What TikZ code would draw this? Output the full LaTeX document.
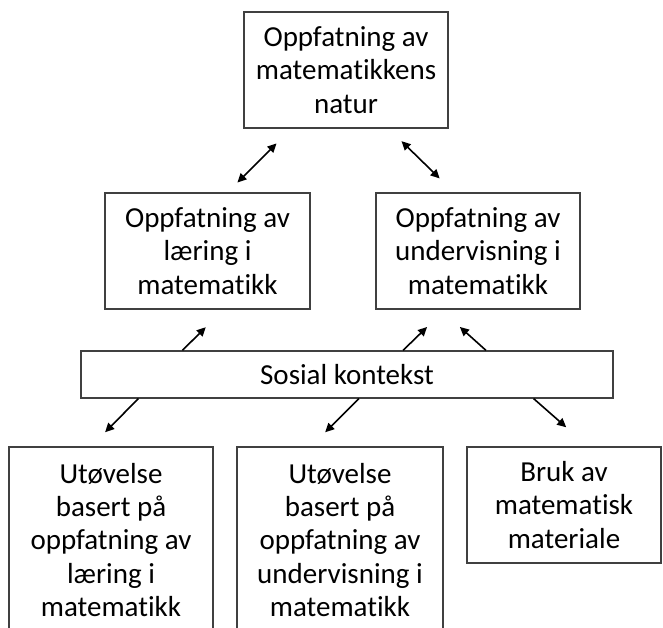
\documentclass[tikz,border=0pt]{standalone}
\usepackage{fontspec}
\setmainfont{Carlito}[Ligatures=NoCommon]
\usetikzlibrary{arrows.meta}

\begin{document}
\begin{tikzpicture}[x=1pt, y=-1pt,
    caja/.style={draw=black!75, line width=1.2pt, align=center, inner sep=0pt,
        font=\fontsize{29}{33.3}\selectfont},
    flecha/.style={-{Triangle[length=9pt,width=8.5pt]}, line width=1.6pt},
    dobleflecha/.style={{Triangle[length=9pt,width=8.5pt]}-{Triangle[length=9pt,width=8.5pt]}, line width=1.6pt}]

    % Fijamos el marco de la figura
    \useasboundingbox (0,0) rectangle (663,628);

    % Caja de arriba
    \node[caja, minimum width=204pt, minimum height=116pt] (natur) at (346,70)
        {Oppfatning av\\matematikkens\\natur};

    % Cajas del medio
    \node[caja, minimum width=205pt, minimum height=116pt] (laering) at (207.5,251)
        {Oppfatning av\\læring i\\matematikk};
    \node[caja, minimum width=204pt, minimum height=116pt] (undervisning) at (478,251)
        {Oppfatning av\\undervisning i\\matematikk};

    % Contexto social
    \node[caja, minimum width=532pt, minimum height=47pt] (kontekst) at (347,374.5)
        {Sosial kontekst};

    % Cajas de abajo
    \node[caja, minimum width=204pt, minimum height=186pt] (utlaering) at (111,540)
        {Utøvelse\\basert på\\oppfatning av\\læring i\\matematikk};
    \node[caja, minimum width=206pt, minimum height=186pt] (utundervisning) at (340,540)
        {Utøvelse\\basert på\\oppfatning av\\undervisning i\\matematikk};
    \node[caja, minimum width=194pt, minimum height=116pt] (materiale) at (564,505)
        {Bruk av\\matematisk\\materiale};

    % Flechas dobles de arriba
    \draw[dobleflecha, shorten <=21pt, shorten >=14pt]
        ([xshift=48pt]natur.south west) -- ([xshift=20pt]laering.north);
    \draw[dobleflecha, shorten <=18pt, shorten >=20pt]
        ([xshift=-60pt]natur.south east) -- ([xshift=-24pt]undervisning.north);

    % Flechas hacia el medio
    \draw[flecha, shorten >=25pt] ([xshift=102pt]kontekst.north west) -- ([xshift=16pt]laering.south);
    \draw[flecha, shorten >=25pt] ([xshift=56pt]kontekst.north) -- ([xshift=-33pt]undervisning.south);
    \draw[flecha, shorten >=26pt] ([xshift=139pt]kontekst.north) -- ([xshift=-37.5pt]undervisning.south);

    % Flechas hacia abajo
    \draw[flecha, shorten >=20pt] ([xshift=58pt]kontekst.south west) -- ([xshift=-20pt]utlaering.north);
    \draw[flecha, shorten >=20pt] ([xshift=12pt]kontekst.south) -- ([xshift=-29pt]utundervisning.north);
    \draw[flecha, shorten >=29pt] ([xshift=-80pt]kontekst.south east) -- ([xshift=24pt]materiale.north);

\end{tikzpicture}
\end{document}
